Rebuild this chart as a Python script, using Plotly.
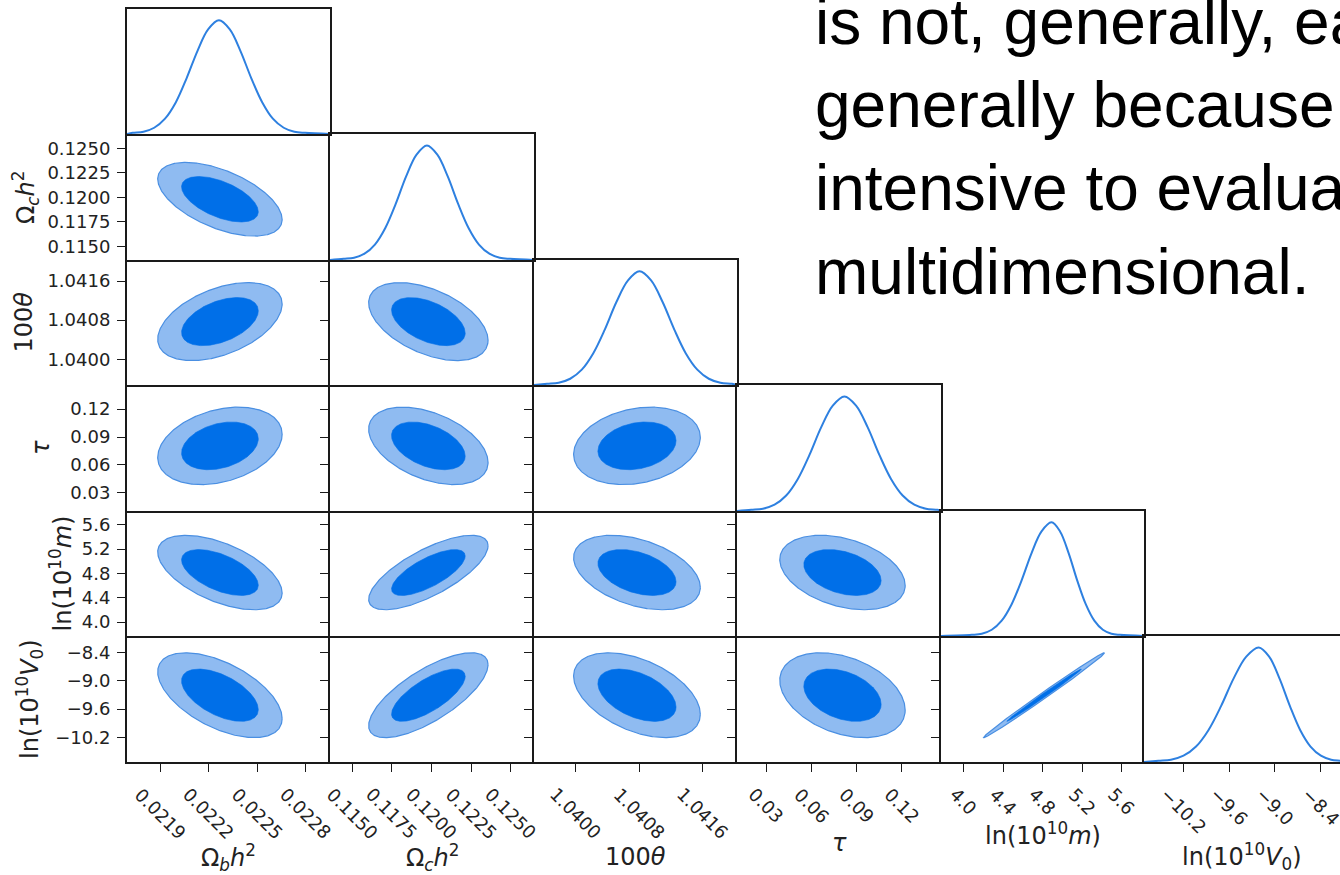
import numpy as np
import plotly.graph_objects as go

W, H = 1340, 875

# ---------------------------------------------------------------------------
# Parameters of the posterior
# ---------------------------------------------------------------------------
labels = [
    "Ω<sub><i>b</i></sub><i>h</i><sup>2</sup>",
    "Ω<sub><i>c</i></sub><i>h</i><sup>2</sup>",
    "100<i>θ</i>",
    "<i>τ</i>",
    "ln(10<sup>10</sup><i>m</i>)",
    "ln(10<sup>10</sup><i>V</i><sub>0</sub>)",
]

# posterior means and standard deviations
means = [0.02227, 0.11980, 1.04077, 0.0805, 4.815, -9.305]
sigmas = [0.000157, 0.00154, 0.000326, 0.0170, 0.250, 0.366]

# correlation coefficients (lower triangle, row = y parameter, col = x parameter)
corr = [
    [1.0, 0.0, 0.0, 0.0, 0.0, 0.0],
    [-0.55, 1.0, 0.0, 0.0, 0.0, 0.0],
    [0.45, -0.48, 1.0, 0.0, 0.0, 0.0],
    [0.30, -0.43, 0.22, 1.0, 0.0, 0.0],
    [-0.55, 0.72, -0.40, -0.35, 1.0, 0.0],
    [-0.55, 0.72, -0.45, -0.35, 0.996, 1.0],
]

# 1D marginal densities (normalised to a peak of 1)
marg_p = [0.01, 0.02, 0.055, 0.135, 0.28, 0.49, 0.73, 0.92, 1.0,
          0.92, 0.73, 0.49, 0.28, 0.135, 0.055, 0.02, 0.01]

omb_x = [0.021731, 0.021798, 0.021864, 0.021931, 0.021998, 0.022064,
         0.022131, 0.022197, 0.022264, 0.022331, 0.022397, 0.022464,
         0.022531, 0.022597, 0.022664, 0.022730, 0.022797]
omc_x = [0.114454, 0.115111, 0.115768, 0.116425, 0.117082, 0.117739,
         0.118396, 0.119053, 0.119710, 0.120367, 0.121024, 0.121681,
         0.122338, 0.122995, 0.123652, 0.124309, 0.124966]
theta_x = [1.039638, 1.039784, 1.039929, 1.040075, 1.040220, 1.040366,
           1.040511, 1.040657, 1.040802, 1.040948, 1.041093, 1.041239,
           1.041384, 1.041530, 1.041675, 1.041821, 1.041966]
tau_x = [0.01996, 0.02769, 0.03542, 0.04315, 0.05088, 0.05861,
         0.06634, 0.07407, 0.08180, 0.08953, 0.09726, 0.10499,
         0.11272, 0.12045, 0.12818, 0.13591, 0.14364]
lnm_x = [4.0839, 4.1847, 4.2854, 4.3862, 4.4870, 4.5877,
         4.6885, 4.7892, 4.8900, 4.9766, 5.0633, 5.1499,
         5.2366, 5.3232, 5.4098, 5.4965, 5.5831]
lnv_x = [-10.526, -10.362, -10.197, -10.033, -9.869, -9.704,
         -9.540, -9.375, -9.211, -9.075, -8.940, -8.804,
         -8.669, -8.533, -8.397, -8.262, -8.126]

marg_x = [omb_x, omc_x, theta_x, tau_x, lnm_x, lnv_x]

# tick values and labels
tick_vals = [
    [0.0219, 0.0222, 0.0225, 0.0228],
    [0.1150, 0.1175, 0.1200, 0.1225, 0.1250],
    [1.0400, 1.0408, 1.0416],
    [0.03, 0.06, 0.09, 0.12],
    [4.0, 4.4, 4.8, 5.2, 5.6],
    [-10.2, -9.6, -9.0, -8.4],
]
tick_text = [
    ["0.0219", "0.0222", "0.0225", "0.0228"],
    ["0.1150", "0.1175", "0.1200", "0.1225", "0.1250"],
    ["1.0400", "1.0408", "1.0416"],
    ["0.03", "0.06", "0.09", "0.12"],
    ["4.0", "4.4", "4.8", "5.2", "5.6"],
    ["\u221210.2", "\u22129.6", "\u22129.0", "\u22128.4"],
]

# ---------------------------------------------------------------------------
# Layout of the triangle grid
# ---------------------------------------------------------------------------
N = 6
axis_range = [
    [0.021696, 0.022950],
    [0.11359, 0.12647],
    [1.039473, 1.042030],
    [0.0105, 0.1459],
    [3.772, 5.826],
    [-10.715, -8.055],
]
col_edges = [127, 330, 534, 737, 941, 1144, 1347]
row_edges = [9, 134, 260, 385, 511, 636, 762]

R95 = np.sqrt(-2 * np.log(0.05))
R68 = np.sqrt(-2 * np.log(0.32))

AX = "#1a1a1a"
TXT = "#222222"
LW = 2
LIGHT = "rgb(143,187,241)"
DARK = "rgb(0,111,232)"
EDGE = "rgb(74,143,226)"
CURVE = "rgb(46,128,224)"
TICK_FONT = dict(family="DejaVu Sans", size=18, color=TXT)
LABEL_FONT = dict(family="DejaVu Sans", size=24, color=TXT)

t = np.linspace(0, 2 * np.pi, 361)


def ellipse(i, j, r):
    mx, my = means[j], means[i]
    sx, sy = sigmas[j], sigmas[i]
    rho = corr[i][j]
    x = mx + r * sx * np.cos(t)
    y = my + r * sy * (rho * np.cos(t) + np.sqrt(1 - rho ** 2) * np.sin(t))
    return x, y


fig = go.Figure()
layout = {}
annotations = []
bottom_axis = {}

k = 0
for i in range(N):
    for j in range(i + 1):
        k += 1
        xname = "x" if k == 1 else f"x{k}"
        yname = "y" if k == 1 else f"y{k}"
        xkey = "xaxis" if k == 1 else f"xaxis{k}"
        ykey = "yaxis" if k == 1 else f"yaxis{k}"

        x0px, x1px = col_edges[j], col_edges[j + 1]
        r0, r1 = axis_range[j]
        if x1px > W:
            r1 = r0 + (W - x0px) / (x1px - x0px) * (r1 - r0)
            x1px = W
        xdom = [x0px / W, x1px / W]
        ydom = [1 - row_edges[i + 1] / H, 1 - row_edges[i] / H]

        diag = i == j
        bottom = i == N - 1
        # shared borders are drawn once: every panel draws its left and bottom
        # edges, diagonal panels also close their top and right edges
        layout[xkey] = dict(
            domain=xdom, range=[r0, r1], anchor=yname,
            showline=True, mirror=diag, linecolor=AX, linewidth=LW,
            showgrid=False, zeroline=False,
            ticks="outside" if bottom else "", ticklen=8, tickwidth=1.4,
            tickcolor=AX, tickvals=tick_vals[j] if bottom else [],
            showticklabels=False, fixedrange=True,
        )
        if bottom:
            bottom_axis[j] = xname

        if diag:
            layout[ykey] = dict(
                domain=ydom, range=[0, 1.1], anchor=xname,
                showline=True, mirror=(j != N - 1), linecolor=AX, linewidth=LW,
                showgrid=False, zeroline=False, ticks="",
                showticklabels=False, fixedrange=True,
            )
            xs = [axis_range[j][0]] + marg_x[j] + [axis_range[j][1]]
            ps = [0.0] + marg_p + [0.0]
            fig.add_trace(go.Scatter(
                x=xs, y=ps, mode="lines", xaxis=xname, yaxis=yname,
                line=dict(color=CURVE, width=2, shape="spline", smoothing=1.0),
                hoverinfo="skip",
            ))
        else:
            layout[ykey] = dict(
                domain=ydom, range=axis_range[i], anchor=xname,
                showline=True, mirror=False, linecolor=AX, linewidth=LW,
                showgrid=False, zeroline=False,
                ticks="outside", ticklen=8, tickwidth=1.4, tickcolor=AX,
                tickvals=tick_vals[i], ticktext=tick_text[i],
                showticklabels=(j == 0), tickfont=TICK_FONT,
                ticklabelstandoff=3, fixedrange=True,
            )
            ex, ey = ellipse(i, j, R95)
            fig.add_trace(go.Scatter(
                x=ex, y=ey, mode="lines", fill="toself", fillcolor=LIGHT,
                line=dict(color=EDGE, width=1.2), xaxis=xname, yaxis=yname,
                hoverinfo="skip",
            ))
            ex, ey = ellipse(i, j, R68)
            fig.add_trace(go.Scatter(
                x=ex, y=ey, mode="lines", fill="toself", fillcolor=DARK,
                line=dict(color=DARK, width=0.6), xaxis=xname, yaxis=yname,
                hoverinfo="skip",
            ))

# rotated x tick labels along the bottom row
for j in range(N):
    for v, s in zip(tick_vals[j], tick_text[j]):
        annotations.append(dict(
            text=s, x=v, xref=bottom_axis[j], y=1 - 781 / H, yref="paper",
            xanchor="center", yanchor="top", textangle=45, showarrow=False,
            font=TICK_FONT,
        ))

# x axis titles
x_title_y = [857, 857, 857, 843, 834, 856]
for j in range(N):
    annotations.append(dict(
        text=labels[j], x=0.5, xref=f"{bottom_axis[j]} domain",
        y=1 - x_title_y[j] / H, yref="paper", xanchor="center", yanchor="middle",
        showarrow=False, font=LABEL_FONT,
    ))

# y axis titles (left column)
y_title_x = [0, 25, 23, 41, 60, 29]
for i in range(1, N):
    kk = i * (i + 1) // 2 + 1
    annotations.append(dict(
        text=labels[i], x=y_title_x[i] / W, xref="paper",
        y=0.5, yref=f"y{kk} domain", xanchor="center", yanchor="middle",
        textangle=-90, showarrow=False, font=LABEL_FONT,
    ))

# slide text beside the triangle plot
annotations.append(dict(
    text="is not, generally, easy<br>generally because<br>intensive to evaluate<br>multidimensional.",
    x=813 / W, xref="paper", y=1 - 310 / H, yref="paper",
    xanchor="left", yanchor="bottom", align="left", showarrow=False,
    font=dict(family="Liberation Sans, Arial", size=64, color="black"),
))

fig.update_layout(
    width=W, height=H, margin=dict(l=0, r=0, t=0, b=0),
    paper_bgcolor="white", plot_bgcolor="rgba(0,0,0,0)",
    showlegend=False, annotations=annotations,
    font=dict(family="DejaVu Sans", color=TXT),
    **layout,
)

fig.write_html("out.html")
